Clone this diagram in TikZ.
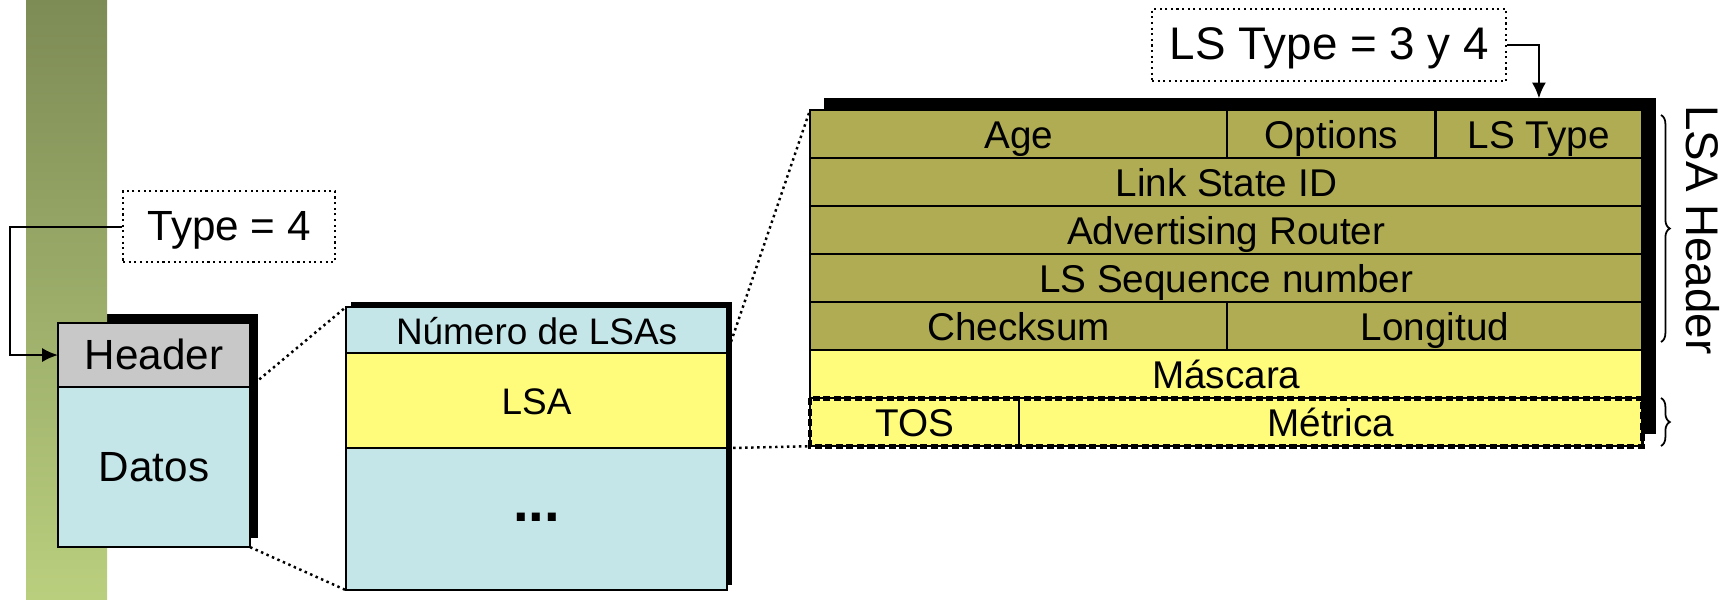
\documentclass[tikz,border=0pt]{standalone}
\usepackage{fontspec}
\setmainfont{Liberation Sans}
\usetikzlibrary{arrows.meta, backgrounds, decorations.pathreplacing}

\definecolor{barTop}{HTML}{7D8B55}
\definecolor{barBottom}{HTML}{BACF7E}
\definecolor{hdrOlive}{HTML}{B0AC54}
\definecolor{lsaYellow}{HTML}{FFFC7C}
\definecolor{pktBlue}{HTML}{C5E6E8}
\definecolor{hdrGray}{HTML}{C8C8C8}

\tikzset{
  field/.style={draw, line width=0.7pt, inner sep=0pt, outer sep=0pt, anchor=north west,
    minimum height=0.48cm, text height=0.8em, text depth=0pt, font=\fontsize{11}{13}\selectfont},
  tagbox/.style={draw, densely dotted, line width=0.6pt, inner sep=0pt, anchor=north west,
    text height=0.8em, text depth=0pt},
  conn/.style={-{Latex[length=4.5pt,width=4pt]}, line width=0.6pt},
  zoomline/.style={densely dotted, line width=0.7pt},
  curly/.style={decorate, decoration={brace, amplitude=2.5pt}, line width=0.5pt},
}

\begin{document}
\begin{tikzpicture}[x=0.01cm, y=-0.01cm]
    \useasboundingbox (0,0) rectangle (1726,599);

    % Side bar
    \shade[top color=barTop, bottom color=barBottom] (26,0) rectangle (107,599);

    % Packet
    \node[field, fill=hdrGray, minimum width=1.92cm, minimum height=0.64cm, font=\fontsize{12}{14}\selectfont] (header) at (58,323) {Header};
    \node[field, fill=pktBlue, minimum width=1.92cm, minimum height=1.60cm, font=\fontsize{12}{14}\selectfont] (datos) at (header.south west) {Datos};

    % LSA list
    \node[field, fill=pktBlue, minimum width=3.81cm, minimum height=0.46cm, font=\fontsize{10.5}{12}\selectfont] (numlsa) at (346,307) {Número de LSAs};
    \node[field, fill=lsaYellow, minimum width=3.81cm, minimum height=0.95cm, font=\fontsize{10.5}{12}\selectfont] (lsa) at (numlsa.south west) {LSA};
    \node[field, fill=pktBlue, minimum width=3.81cm, minimum height=1.42cm, text height=0.12em, font=\fontsize{16}{18}\selectfont\bfseries] (rest) at (lsa.south west) {...};

    % LSA (header + body)
    \node[field, fill=hdrOlive, minimum width=4.17cm] (age) at (810,110) {Age};
    \node[field, fill=hdrOlive, minimum width=2.08cm] (options) at (age.north east) {Options};
    \node[field, fill=hdrOlive, minimum width=2.07cm] (lstype) at (options.north east) {LS Type};
    \node[field, fill=hdrOlive, minimum width=8.32cm] (lsid) at (age.south west) {Link State ID};
    \node[field, fill=hdrOlive, minimum width=8.32cm] (advr) at (lsid.south west) {Advertising Router};
    \node[field, fill=hdrOlive, minimum width=8.32cm] (lsseq) at (advr.south west) {LS Sequence number};
    \node[field, fill=hdrOlive, minimum width=4.17cm] (cksum) at (lsseq.south west) {Checksum};
    \node[field, fill=hdrOlive, minimum width=4.15cm] (longit) at (cksum.north east) {Longitud};
    \node[field, fill=lsaYellow, minimum width=8.32cm] (mascara) at (cksum.south west) {Máscara};
    \node[field, fill=lsaYellow, minimum width=2.09cm] (tos) at (mascara.south west) {TOS};
    \node[field, fill=lsaYellow, minimum width=6.23cm] (metrica) at (tos.north east) {Métrica};
    \draw[line width=1.4pt, dash pattern=on 2pt off 1pt] (tos.north west) rectangle (metrica.south east);

    % Shadows and zoom lines
    \begin{scope}[on background layer]
        \draw[zoomline] (header.south east) -- (numlsa.north west);
        \draw[zoomline] (datos.south east) -- (rest.south west);
        \draw[zoomline] (numlsa.south east) -- (age.north west);
        \draw[zoomline] (lsa.south east) -- (tos.south west);
        \fill ([shift={(8,-9)}]header.north west) rectangle ([shift={(8,-9)}]datos.south east);
        \fill ([shift={(5,-5)}]numlsa.north west) rectangle ([shift={(5,-5)}]rest.south east);
        \fill ([shift={(14,-12)}]age.north west) rectangle ([shift={(14,-12)}]metrica.south east);
    \end{scope}

    % Type labels
    \node[tagbox, minimum width=2.12cm, minimum height=0.71cm, font=\fontsize{12}{14}\selectfont] (typefour) at (122,190) {Type = 4};
    \draw[conn] (typefour.west) -- ++(-112,0) |- (header.west);
    \node[tagbox, minimum width=3.54cm, minimum height=0.72cm, font=\fontsize{13}{15}\selectfont] (lstbox) at (1151,8) {LS Type = 3 y 4};
    \draw[conn] (lstbox.east) -| ([yshift=3.3pt]lstype.north);

    % Braces
    \draw[curly] (1661,115) -- (1661,342);
    \node[rotate=-90, font=\fontsize{13}{15}\selectfont] (lsahdr) at (1703,230) {LSA Header};
    \draw[curly] (1661,398) -- (1661,446);
\end{tikzpicture}
\end{document}
